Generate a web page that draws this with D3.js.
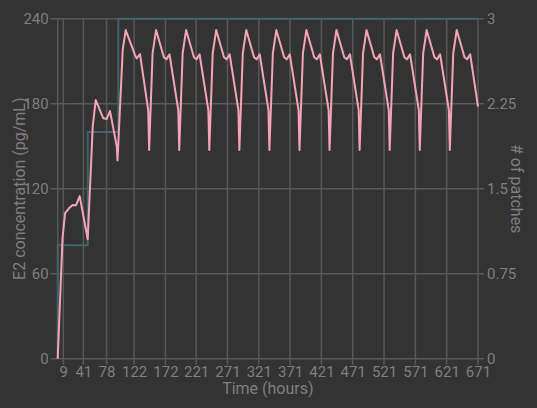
<!DOCTYPE html>
<html>
<head>
<meta charset="utf-8">
<script src="https://cdn.jsdelivr.net/npm/d3@7"></script>
<style>
  html, body { margin: 0; padding: 0; background: #333333; }
  svg { display: block; }
  text { font-family: Roboto, "Noto Sans", sans-serif; }
</style>
</head>
<body>
<div id="chart"></div>
<script>
// ---- data ----
const timeTicks = [9, 41, 78, 122, 172, 221, 271, 321, 371, 421, 471, 521, 571, 621, 671];
const e2Ticks = [0, 60, 120, 180, 240];
const patchTicks = [0, 0.75, 1.5, 2.25, 3];

const e2Times = [
  0, 7.7, 11.7, 17.6, 23.9, 29.2, 35.1, 47.9,
  55.9, 60.7, 72.8, 78.2, 83.5, 94.3, 95.5,
  103.8, 108.6, 123.4, 126.1, 131.4,
  144.5, 146, 151.5, 157, 169.5, 173.5, 178.5,
  192.5, 194, 199.5, 205, 217.5, 221.5, 226.5,
  240.5, 242, 247.5, 253, 265.5, 269.5, 274.5,
  288.5, 290, 295.5, 301, 313.5, 317.5, 322.5,
  336.5, 338, 343.5, 349, 361.5, 365.5, 370.5,
  384.5, 386, 391.5, 397, 409.5, 413.5, 418.5,
  432.5, 434, 439.5, 445, 457.5, 461.5, 466.5,
  480.5, 482, 487.5, 493, 505.5, 509.5, 514.5,
  528.5, 530, 535.5, 541, 553.5, 557.5, 562.5,
  576.5, 578, 583.5, 589, 601.5, 605.5, 610.5,
  624.5, 626, 631.5, 637, 649.5, 653.5, 658.5,
  671
];
const e2Values = [
  0, 85, 102.6, 106, 108.5, 108.3, 114.8, 84.3,
  163.8, 182.6, 169.7, 169.2, 174.8, 150, 140,
  218, 232, 214.4, 212, 215,
  175.5, 147.3, 215.6, 232, 212.8, 211.3, 214.9,
  175.5, 147.3, 215.6, 232, 212.8, 211.3, 214.9,
  175.5, 147.3, 215.6, 232, 212.8, 211.3, 214.9,
  175.5, 147.3, 215.6, 232, 212.8, 211.3, 214.9,
  175.5, 147.3, 215.6, 232, 212.8, 211.3, 214.9,
  175.5, 147.3, 215.6, 232, 212.8, 211.3, 214.9,
  175.5, 147.3, 215.6, 232, 212.8, 211.3, 214.9,
  175.5, 147.3, 215.6, 232, 212.8, 211.3, 214.9,
  175.5, 147.3, 215.6, 232, 212.8, 211.3, 214.9,
  175.5, 147.3, 215.6, 232, 212.8, 211.3, 214.9,
  175.5, 147.3, 215.6, 232, 212.8, 211.3, 214.9,
  178
];

const patchTimes = [0, 0, 47.9, 96.8, 671];
const patchValues = [0, 1, 2, 3, 3];

// ---- layout ----
const W = 537, H = 408;
const mLeft = 57.7, mRight = 478, mTop = 18.7, mBottom = 358.7;
const gridColor = "#595959";
const textColor = "#7f7f7f";

const svg = d3.select("#chart").append("svg").attr("width", W).attr("height", H);

const x = d3.scaleLinear().domain([0, 671]).range([mLeft, mRight]);
const yL = d3.scaleLinear().domain([0, 240]).range([mBottom, mTop]);
const yR = d3.scaleLinear().domain([0, 3]).range([mBottom, mTop]);

// gridlines
const g = svg.append("g");
g.selectAll("line.h").data(e2Ticks).join("line")
  .attr("x1", mLeft - 7).attr("x2", mRight + 6)
  .attr("y1", d => yL(d)).attr("y2", d => yL(d))
  .attr("stroke", gridColor).attr("stroke-width", 1.5);
g.selectAll("line.v").data(timeTicks).join("line")
  .attr("x1", d => x(d)).attr("x2", d => x(d))
  .attr("y1", mTop).attr("y2", mBottom + 6)
  .attr("stroke", gridColor).attr("stroke-width", 1.5);
g.append("line").attr("x1", mLeft).attr("x2", mLeft).attr("y1", mTop).attr("y2", mBottom)
  .attr("stroke", gridColor).attr("stroke-width", 1.5);

// axes (labels only, using d3 axis generators)
function styleAxis(sel) {
  sel.select(".domain").remove();
  sel.selectAll(".tick line").remove();
  sel.selectAll(".tick text").attr("fill", textColor).attr("font-size", 15)
    .attr("font-family", "Roboto, 'Noto Sans', sans-serif");
}
svg.append("g").attr("transform", `translate(${mLeft - 9},0)`)
  .call(d3.axisLeft(yL).tickValues(e2Ticks).tickSize(0).tickPadding(0).tickFormat(d3.format("d")))
  .call(styleAxis);
svg.append("g").attr("transform", `translate(${mRight + 9},0)`)
  .call(d3.axisRight(yR).tickValues(patchTicks).tickSize(0).tickPadding(0).tickFormat(d => String(d)))
  .call(styleAxis);
svg.append("g").attr("transform", `translate(0,${mBottom + 6})`)
  .call(d3.axisBottom(x).tickValues(timeTicks).tickSize(0).tickPadding(2).tickFormat(d3.format("d")))
  .call(styleAxis);

// titles
svg.append("text").attr("x", (mLeft + mRight) / 2).attr("y", 394)
  .attr("text-anchor", "middle").attr("fill", textColor).attr("font-size", 16)
  .text("Time (hours)");
svg.append("text").attr("transform", `translate(25,${(mTop + mBottom) / 2}) rotate(-90)`)
  .attr("text-anchor", "middle").attr("fill", textColor).attr("font-size", 16)
  .text("E2 concentration (pg/mL)");
svg.append("text").attr("transform", `translate(511,${(mTop + mBottom) / 2}) rotate(90)`)
  .attr("text-anchor", "middle").attr("fill", textColor).attr("font-size", 16)
  .text("# of patches");

// patches step line
const patchData = patchTimes.map((t, i) => [t, patchValues[i]]);
svg.append("path").datum(patchData)
  .attr("fill", "none").attr("stroke", "#41636e").attr("stroke-width", 2)
  .attr("d", d3.line().x(d => x(d[0])).y(d => yR(d[1])).curve(d3.curveStepAfter));

// E2 line
const e2Data = e2Times.map((t, i) => [t, e2Values[i]]);
svg.append("path").datum(e2Data)
  .attr("fill", "none").attr("stroke", "#f5a3b7").attr("stroke-width", 2)
  .attr("stroke-linejoin", "round")
  .attr("d", d3.line().x(d => x(d[0])).y(d => yL(d[1])));
</script>
</body>
</html>
